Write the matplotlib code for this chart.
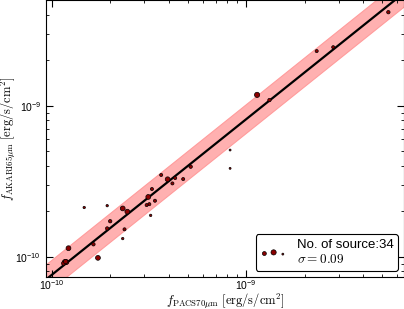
import matplotlib
import numpy as np

matplotlib.use("Agg")
import matplotlib.pyplot as plt
from matplotlib.font_manager import FontProperties

plt.rcParams["font.family"] = ["Liberation Sans", "DejaVu Sans"]

# fluxes (erg/s/cm^2)
f_pacs = np.array([
    5.40e-9, 2.81e-9, 2.31e-9, 1.14e-9, 1.32e-9, 8.28e-10, 8.28e-10,
    5.19e-10, 4.75e-10, 4.32e-10, 4.18e-10, 3.95e-10, 3.66e-10, 3.40e-10,
    3.28e-10, 3.18e-10, 3.23e-10, 3.14e-10, 3.08e-10, 2.45e-10, 2.32e-10,
    2.37e-10, 2.32e-10, 2.00e-10, 1.93e-10, 1.93e-10, 1.47e-10, 1.64e-10,
    1.22e-10, 1.73e-10, 1.17e-10, 1.19e-10, 1.15e-10, 1.18e-10,
])
f_akari = np.array([
    4.16e-9, 2.44e-9, 2.30e-9, 1.18e-9, 1.09e-9, 5.09e-10, 3.85e-10,
    3.95e-10, 3.27e-10, 3.32e-10, 3.06e-10, 3.26e-10, 3.48e-10, 2.35e-10,
    2.81e-10, 2.23e-10, 1.88e-10, 2.49e-10, 2.20e-10, 1.99e-10, 2.09e-10,
    1.52e-10, 1.32e-10, 1.72e-10, 1.54e-10, 2.18e-10, 2.12e-10, 1.21e-10,
    1.14e-10, 9.84e-11, 9.22e-11, 9.22e-11, 9.05e-11, 9.30e-11,
])
marker_size = np.array([
    6, 5, 5, 14, 6, 2, 2,
    6, 5, 5, 5, 12, 5, 5,
    5, 5, 3, 12, 5, 12, 12,
    5, 3, 6, 6, 3, 3, 6,
    12, 12, 14, 12, 8, 10,
])
n_source = 34
sigma = 0.09

# fitted relation: log f_akari = slope * log f_pacs + intercept
fit_slope = 1.03
fit_intercept = -8.300 - 1.03 * (-8.233)
band_dex = 0.095

fig = plt.figure(figsize=(4.04, 3.09), dpi=100)
ax = fig.add_axes([0.1139, 0.105, 0.8861, 0.895])

xx = np.logspace(-10.2, -8.0, 200)
yy = 10 ** (fit_slope * np.log10(xx) + fit_intercept)
ax.fill_between(xx, yy * 10 ** (-band_dex), yy * 10 ** band_dex,
                color="#ffb0b0", lw=0.8, edgecolor="#ff9c9c", zorder=1)
ax.plot(xx, yy, color="k", lw=1.6, zorder=2)

label = "No. of source:%d\n$\\sigma = %.2f$" % (n_source, sigma)
ax.scatter(f_pacs, f_akari, s=marker_size, c="#8b0000", edgecolors="k",
           linewidths=0.5, zorder=3, label=label)

ax.set_xscale("log")
ax.set_yscale("log")
ax.set_xlim(9.35e-11, 6.5e-9)
ax.set_ylim(7.4e-11, 5.01e-9)

ax.tick_params(which="both", direction="in", top=True, right=True, labelsize=7.5)
ax.tick_params(which="major", length=5)
ax.tick_params(which="minor", length=2.5)
ax.tick_params(axis="x", which="both", pad=1.5)

ax.set_xlabel(r"$f_{\rm PACS70\mu m}\ {\rm [erg/s/cm^2]}$", fontsize=9,
              math_fontfamily="cm")
ax.set_ylabel(r"$f_{\rm AKARI65\mu m}\ {\rm [erg/s/cm^2]}$", fontsize=9,
              math_fontfamily="cm")
ax.xaxis.set_label_coords(0.5, -0.055)
ax.yaxis.set_label_coords(-0.078, 0.5)

leg = ax.legend(loc="lower right", scatterpoints=3, fancybox=True,
                framealpha=1, edgecolor="k", borderaxespad=0.45,
                handletextpad=0.75, borderpad=0.35, labelspacing=0.2,
                prop=FontProperties(family="Liberation Sans", size=9.5,
                                    math_fontfamily="cm"))
leg.get_frame().set_linewidth(0.8)

fig.savefig("out.png", dpi=100)
